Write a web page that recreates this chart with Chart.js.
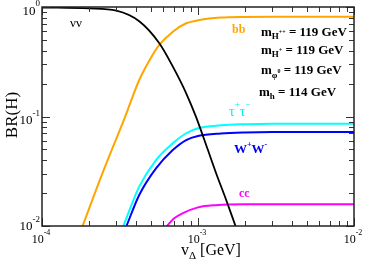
<!DOCTYPE html>
<html>
<head>
<meta charset="utf-8">
<script src="https://cdn.jsdelivr.net/npm/chart.js@4"></script>
<style>
  html, body { margin: 0; padding: 0; background: #fff; }
  #chart { display: block; }
</style>
</head>
<body>
<canvas id="chart" width="365" height="266"></canvas>
<script>
// v_Delta [GeV] vs BR(H)
const nuV  = [1e-4, 2e-4, 3e-4, 4.2e-4, 5.65e-4, 6.9e-4, 8.4e-4, 9.7e-4, 1.15e-3, 1.31e-3, 1.5e-3, 1.74e-3];
const nuBR = [0.99, 0.97, 0.925, 0.74, 0.466, 0.285, 0.163, 0.0996, 0.0507, 0.03, 0.018, 0.01];

const bbV  = [1.82e-4, 2.47e-4, 3.38e-4, 4.2e-4, 4.9e-4, 5.65e-4, 6.9e-4, 8.4e-4, 1.02e-3, 1.4e-3, 2e-3, 3e-3, 1e-2];
const bbBR = [0.01, 0.0317, 0.0963, 0.2154, 0.328, 0.45, 0.595, 0.71, 0.76, 0.80, 0.812, 0.815, 0.815];

const tauV  = [3.32e-4, 4.2e-4, 5.38e-4, 6.89e-4, 8.4e-4, 1e-3, 1.4e-3, 2e-3, 3e-3, 1e-2];
const tauBR = [0.01, 0.0229, 0.040, 0.0569, 0.0703, 0.078, 0.083, 0.085, 0.086, 0.086];

const wwV  = [3.48e-4, 4.2e-4, 5.38e-4, 6.89e-4, 8.4e-4, 1e-3, 1.4e-3, 2e-3, 3e-3, 1e-2];
const wwBR = [0.01, 0.0192, 0.0336, 0.0494, 0.061, 0.0664, 0.070, 0.0715, 0.072, 0.072];

const ccV  = [6.33e-4, 7e-4, 8e-4, 1e-3, 1.3e-3, 2e-3, 3e-3, 1e-2];
const ccBR = [0.01, 0.0117, 0.0131, 0.0148, 0.0155, 0.0158, 0.0158, 0.0158];

const xTicks = [1e-4, 1e-3, 1e-2];
const yTicks = [1e-2, 1e-1, 1];

const SERIF = '"Liberation Serif", "DejaVu Serif", serif';

function pts(xs, ys) {
    return xs.map((x, i) => ({ x: x, y: ys[i] }));
}

function line(data, color, width) {
    return {
        data: data, borderColor: color, borderWidth: width, pointRadius: 0,
        showLine: true, fill: false, cubicInterpolationMode: 'monotone'
    };
}

// draws a run of text pieces (sub/superscripts) starting at x, baseline y
function drawRuns(ctx, runs, x, y, align) {
    let w = 0;
    runs.forEach(r => { ctx.font = r.font; r.w = ctx.measureText(r.t).width; w += r.w; });
    let cx = align === 'right' ? x - w : align === 'center' ? x - w / 2 : x;
    ctx.textAlign = 'left';
    ctx.textBaseline = 'alphabetic';
    runs.forEach(r => { ctx.font = r.font; ctx.fillText(r.t, cx, y + (r.dy || 0)); cx += r.w; });
}

function minorTicks(majors) {
    const out = [];
    for (let i = 0; i < majors.length - 1; i++)
        for (let m = 2; m <= 9; m++) out.push(majors[i] * m);
    return out;
}

const framePlugin = {
    id: 'frame',
    afterDraw(chart) {
        const ctx = chart.ctx, a = chart.chartArea;
        const xs = chart.scales.x, ys = chart.scales.y;
        ctx.save();

        // ticks, pointing inward on all four sides
        ctx.strokeStyle = '#333';
        ctx.lineWidth = 1;
        const tickX = (v, len) => {
            const px = Math.round(xs.getPixelForValue(v)) + 0.5;
            ctx.beginPath();
            ctx.moveTo(px, a.bottom); ctx.lineTo(px, a.bottom - len);
            ctx.moveTo(px, a.top); ctx.lineTo(px, a.top + len);
            ctx.stroke();
        };
        const tickY = (v, len) => {
            const py = Math.round(ys.getPixelForValue(v)) + 0.5;
            ctx.beginPath();
            ctx.moveTo(a.left, py); ctx.lineTo(a.left + len, py);
            ctx.moveTo(a.right, py); ctx.lineTo(a.right - len, py);
            ctx.stroke();
        };
        minorTicks(xTicks).forEach(v => tickX(v, 5));
        xTicks.forEach(v => tickX(v, 8));
        minorTicks(yTicks).forEach(v => tickY(v, 5));
        yTicks.forEach(v => tickY(v, 8));

        // frame
        ctx.strokeStyle = '#222';
        ctx.lineWidth = 1.5;
        ctx.strokeRect(a.left, a.top, a.right - a.left, a.bottom - a.top);

        // tick labels
        ctx.fillStyle = '#000';
        xTicks.forEach(v => {
            const px = xs.getPixelForValue(v);
            const e = Math.round(Math.log10(v));
            drawRuns(ctx, [
                { t: '10', font: '12px ' + SERIF },
                { t: '-' + Math.abs(e), font: '8px ' + SERIF, dy: -8 }
            ], px - 1, 243, 'center');
        });
        yTicks.forEach((v, i) => {
            const py = ys.getPixelForValue(v);
            const e = Math.round(Math.log10(v));
            const base = i === 0 ? py + 4 : py + 7.5;
            drawRuns(ctx, [
                { t: '10', font: '13px ' + SERIF },
                { t: (e < 0 ? '-' : '') + Math.abs(e), font: '9px ' + SERIF, dy: -8.5 }
            ], 40, base, 'right');
        });

        // axis titles
        ctx.save();
        ctx.translate(13, 115);
        ctx.rotate(-Math.PI / 2);
        ctx.font = '17px ' + SERIF;
        ctx.textAlign = 'center';
        ctx.textBaseline = 'middle';
        ctx.fillText('BR(H)', 0, 0);
        ctx.restore();
        drawRuns(ctx, [
            { t: 'v', font: '16px ' + SERIF },
            { t: 'Δ', font: '11px ' + SERIF, dy: 4 },
            { t: ' [GeV]', font: '16px ' + SERIF }
        ], 181, 255, 'left');

        // curve labels
        ctx.fillStyle = '#000';
        drawRuns(ctx, [{ t: 'νν', font: '13px ' + SERIF }], 70, 27, 'left');
        ctx.fillStyle = '#FFA500';
        drawRuns(ctx, [{ t: 'bb', font: 'bold 12px ' + SERIF }], 232, 33, 'left');
        ctx.fillStyle = '#00EEEE';
        drawRuns(ctx, [
            { t: 'τ', font: '14px ' + SERIF },
            { t: '+', font: '9px ' + SERIF, dy: -9 },
            { t: 'τ', font: '14px ' + SERIF },
            { t: '−', font: '9px ' + SERIF, dy: -9 }
        ], 229, 116, 'left');
        ctx.fillStyle = '#0000EE';
        drawRuns(ctx, [
            { t: 'W', font: 'bold 13px ' + SERIF },
            { t: '+', font: 'bold 8px ' + SERIF, dy: -6 },
            { t: 'W', font: 'bold 13px ' + SERIF },
            { t: '-', font: 'bold 8px ' + SERIF, dy: -6 }
        ], 234, 153, 'left');
        ctx.fillStyle = '#FF00FF';
        drawRuns(ctx, [{ t: 'cc', font: 'bold 12px ' + SERIF }], 239, 197, 'left');

        // mass labels
        ctx.fillStyle = '#000';
        const B = 'bold 13px ' + SERIF, S = 'bold 9px ' + SERIF, SS = 'bold 6px ' + SERIF;
        drawRuns(ctx, [
            { t: 'm', font: B }, { t: 'H', font: S, dy: 3 }, { t: '++', font: SS, dy: -2 },
            { t: ' = 119 GeV', font: B }
        ], 261, 36, 'left');
        drawRuns(ctx, [
            { t: 'm', font: B }, { t: 'H', font: S, dy: 3 }, { t: '+', font: SS, dy: -2 },
            { t: ' = 119 GeV', font: B }
        ], 261, 54, 'left');
        drawRuns(ctx, [
            { t: 'm', font: B }, { t: 'φ', font: S, dy: 4 }, { t: '0', font: SS, dy: -1 },
            { t: ' = 119 GeV', font: B }
        ], 261, 74, 'left');
        drawRuns(ctx, [
            { t: 'm', font: B }, { t: 'h', font: S, dy: 3 },
            { t: ' = 114 GeV', font: B }
        ], 259, 96, 'left');

        ctx.restore();
    }
};

new Chart(document.getElementById('chart'), {
    type: 'scatter',
    data: {
        datasets: [
            line(pts(nuV, nuBR), '#000000', 1.8),
            line(pts(bbV, bbBR), '#FFA500', 2),
            line(pts(tauV, tauBR), '#00FFFF', 2),
            line(pts(wwV, wwBR), '#0000FF', 2),
            line(pts(ccV, ccBR), '#FF00FF', 2)
        ]
    },
    options: {
        responsive: false,
        animation: false,
        devicePixelRatio: 1,
        layout: { padding: { left: 42, right: 11, top: 7, bottom: 40 } },
        scales: {
            x: { type: 'logarithmic', min: 1e-4, max: 1e-2, display: false },
            y: { type: 'logarithmic', min: 1e-2, max: 1, display: false }
        },
        plugins: { legend: { display: false }, tooltip: { enabled: false } }
    },
    plugins: [framePlugin]
});
</script>
</body>
</html>
